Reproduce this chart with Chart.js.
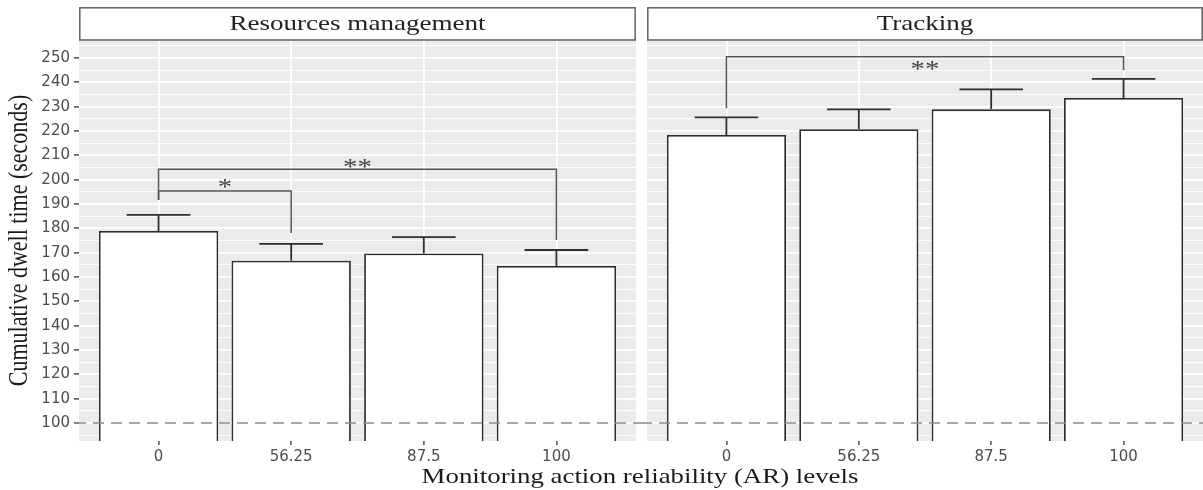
<!DOCTYPE html>
<html>
<head>
<meta charset="utf-8">
<script src="https://cdn.jsdelivr.net/npm/chart.js@4.4.1/dist/chart.umd.min.js"></script>
<style>
    body { margin: 0; background: #fff; }
    #wrap { position: relative; width: 1203px; height: 490px; overflow: hidden; }
    #leftCanvas { position: absolute; left: 0; top: 0; }
    #rightCanvas { position: absolute; left: 641px; top: 0; }
    #xTitle {
        position: absolute; left: 640px; top: 464px;
        font: 22px "Liberation Serif", serif; color: #1a1a1a;
        white-space: nowrap; line-height: 24px;
        transform: translateX(-50%) scaleX(1.22);
    }
</style>
</head>
<body>
<div id="wrap">
    <canvas id="leftCanvas" width="641" height="490"></canvas>
    <canvas id="rightCanvas" width="562" height="490"></canvas>
    <div id="xTitle">Monitoring action reliability (AR) levels</div>
</div>
<script>
// AR levels on the x axis (positions 1..4 on a linear scale, like ggplot's discrete axis)
const levels = ['0', '56.25', '87.5', '100'];
const levelPos = [1, 2, 3, 4];

// mean cumulative dwell time and top of the error bar
const resourcesMean = [178.9, 166.7, 169.7, 164.5];
const resourcesUpper = [185.5, 173.6, 176.4, 171.1];
const trackingMean = [218.4, 220.7, 228.9, 233.6];
const trackingUpper = [225.6, 228.9, 237.1, 241.4];

const yTicks = [100, 110, 120, 130, 140, 150, 160, 170, 180, 190, 200, 210, 220, 230, 240, 250];
const referenceLine = 100;

// significance brackets: [from, to, bracket level, left leg end, right leg end, label level, label]
const resourcesSig = [
    [0, 1, 195.3, 191.6, 178.1, 198.6, '*'],
    [0, 3, 204.3, 191.6, 175.2, 206.8, '**']
];
const trackingSig = [
    [0, 3, 250.5, 229.3, 245.0, 247.1, '**']
];

Chart.defaults.font.family = '"DejaVu Sans", sans-serif';

const isMajor = c => c.tick && c.tick.value % 10 === 0;

// panel background, error bars, dashed line, brackets, strip (and y title on the left panel)
function panelDecor(stripLabel, means, upper, sig, isLeft) {
    return {
        id: 'panelDecor',
        beforeDraw(chart) {
            const {ctx, chartArea: a} = chart;
            ctx.save();
            ctx.fillStyle = '#EBEBEB';
            ctx.fillRect(a.left, a.top, a.right - a.left, a.bottom - a.top);
            ctx.restore();
        },
        afterDatasetsDraw(chart) {
            const {ctx, chartArea: a, scales: {x, y}} = chart;
            ctx.save();

            // upper error bars
            ctx.strokeStyle = '#2e2e2e';
            ctx.lineWidth = 1.8;
            means.forEach((m, i) => {
                const px = x.getPixelForValue(levelPos[i]);
                const half = x.getPixelForValue(levelPos[i] + 0.24) - px;
                const top = y.getPixelForValue(upper[i]);
                ctx.beginPath();
                ctx.moveTo(px, y.getPixelForValue(m));
                ctx.lineTo(px, top);
                ctx.moveTo(px - half, top);
                ctx.lineTo(px + half, top);
                ctx.stroke();
            });

            // dashed reference line at 100
            const ry = y.getPixelForValue(referenceLine);
            ctx.strokeStyle = '#8c8c8c';
            ctx.lineWidth = 1.6;
            ctx.setLineDash([11, 7]);
            ctx.beginPath();
            ctx.moveTo(isLeft ? a.left - 4 : 0, ry);
            ctx.lineTo(isLeft ? chart.width : a.right, ry);
            ctx.stroke();
            ctx.setLineDash([]);

            // significance brackets
            ctx.strokeStyle = '#555';
            ctx.lineWidth = 1.5;
            ctx.fillStyle = '#444';
            ctx.font = '24px "Liberation Serif", serif';
            ctx.textAlign = 'center';
            ctx.textBaseline = 'alphabetic';
            sig.forEach(([from, to, level, legA, legB, labelY, label]) => {
                const x1 = x.getPixelForValue(levelPos[from]);
                const x2 = x.getPixelForValue(levelPos[to]);
                const yl = y.getPixelForValue(level);
                ctx.beginPath();
                ctx.moveTo(x1, y.getPixelForValue(legA));
                ctx.lineTo(x1, yl);
                ctx.lineTo(x2, yl);
                ctx.lineTo(x2, y.getPixelForValue(legB));
                ctx.stroke();
                const m = ctx.measureText(label);
                const mid = (m.actualBoundingBoxAscent - m.actualBoundingBoxDescent) / 2;
                ctx.save();
                ctx.translate((x1 + x2) / 2, y.getPixelForValue(labelY) + mid);
                ctx.scale(1.2, 1);
                ctx.fillText(label, 0, 0);
                ctx.restore();
            });
            ctx.restore();
        },
        afterDraw(chart) {
            const {ctx, chartArea: a} = chart;
            ctx.save();
            // facet strip
            ctx.fillStyle = '#fff';
            ctx.fillRect(a.left, 7, a.right - a.left, a.top - 7);
            ctx.strokeStyle = '#6a6a6a';
            ctx.lineWidth = 1.6;
            ctx.strokeRect(a.left + 0.8, 7.8, a.right - a.left - 1.6, a.top - 7.8);
            ctx.fillStyle = '#222';
            ctx.font = '22px "Liberation Serif", serif';
            ctx.textAlign = 'center';
            ctx.textBaseline = 'middle';
            ctx.save();
            ctx.translate((a.left + a.right) / 2, 24.5);
            ctx.scale(1.23, 1);
            ctx.fillText(stripLabel, 0, 0);
            ctx.restore();

            // y axis title
            if (isLeft) {
                ctx.fillStyle = '#1a1a1a';
                ctx.translate(20, (a.top + a.bottom) / 2);
                ctx.scale(1.22, 1);
                ctx.rotate(-Math.PI / 2);
                ctx.fillText('Cumulative dwell time (seconds)', 0, 0);
            }
            ctx.restore();
        }
    };
}

function makePanel(canvasId, stripLabel, means, upper, sig, isLeft) {
    const ctx = document.getElementById(canvasId).getContext('2d');
    return new Chart(ctx, {
        type: 'bar',
        data: {
            datasets: [{
                data: means.map((v, i) => ({x: levelPos[i], y: v})),
                backgroundColor: '#fff',
                borderColor: '#2e2e2e',
                borderWidth: 1.8,
                categoryPercentage: 1,
                barPercentage: 0.9
            }]
        },
        options: {
            responsive: false,
            animation: false,
            layout: {
                padding: {top: 40, bottom: 0, left: isLeft ? 0 : 6, right: isLeft ? 5 : 0}
            },
            plugins: {
                legend: {display: false},
                tooltip: {enabled: false}
            },
            scales: {
                x: {
                    type: 'linear',
                    min: 0.4,
                    max: 4.6,
                    offset: false,
                    ticks: {
                        stepSize: 1,
                        includeBounds: false,
                        autoSkip: false,
                        maxRotation: 0,
                        padding: 3,
                        color: '#4d4d4d',
                        font: {size: 15},
                        callback: v => levels[levelPos.indexOf(v)] ?? ''
                    },
                    grid: {offset: false, color: '#fff', lineWidth: 1.8, tickColor: '#333', tickLength: 4, tickWidth: 1.3},
                    border: {display: false},
                    afterFit: s => { s.height = 49; }
                },
                y: {
                    min: 92.6,
                    max: 257.4,
                    ticks: {
                        stepSize: 5,
                        includeBounds: false,
                        autoSkip: false,
                        display: isLeft,
                        padding: 4,
                        color: '#4d4d4d',
                        font: {size: 15},
                        callback: v => yTicks.includes(v) ? String(v) : ''
                    },
                    grid: {
                        color: '#fff',
                        lineWidth: c => isMajor(c) ? 1.8 : 0.9,
                        drawTicks: isLeft,
                        tickLength: 5,
                        tickWidth: 1.3,
                        tickColor: c => isMajor(c) ? '#333' : 'rgba(0,0,0,0)'
                    },
                    border: {display: false},
                    afterFit: s => { s.width = isLeft ? 79 : 0; }
                }
            }
        },
        plugins: [panelDecor(stripLabel, means, upper, sig, isLeft)]
    });
}

makePanel('leftCanvas', 'Resources management', resourcesMean, resourcesUpper, resourcesSig, true);
makePanel('rightCanvas', 'Tracking', trackingMean, trackingUpper, trackingSig, false);
</script>
</body>
</html>
